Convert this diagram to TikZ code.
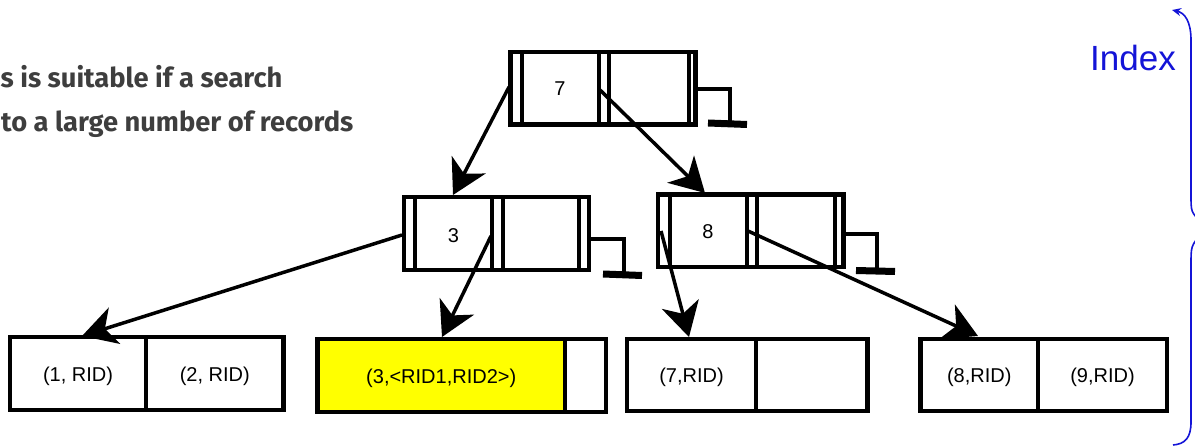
\documentclass[tikz,border=0pt]{standalone}
\usepackage{fontspec}
\setmainfont{Liberation Sans}
\newfontfamily\firafont{Fira Sans}
\usetikzlibrary{arrows.meta}
\definecolor{idxblue}{RGB}{20,20,215}
\definecolor{txtgray}{RGB}{62,62,62}
\definecolor{leafyellow}{RGB}{255,255,0}
\begin{document}
\begin{tikzpicture}[x=1pt,y=-1pt,
  cell/.style={draw=black, line width=4.5pt, inner sep=0pt, outer sep=0pt,
    minimum height=73pt, text height=20pt, text depth=4pt,
    font=\fontsize{20}{24}\selectfont},
  inode/.style={draw=black, line width=4.5pt, inner sep=0pt, outer sep=0pt,
    minimum width=185pt, minimum height=72.5pt},
  bar/.style={line width=4pt},
  ptr/.style={line width=4pt},
  gnd/.style={line width=7pt},
  lbl/.style={font=\fontsize{20}{24}\selectfont, inner sep=0pt},
  arr/.style={line width=3.5pt, -{Stealth[length=34pt,width=38pt,inset=10pt]}},
  side/.style={anchor=base west, text=txtgray, inner sep=0pt,
    font=\firafont\bfseries\fontsize{27.3}{30}\selectfont},
  brace/.style={idxblue, line width=1.6pt}
]
\useasboundingbox (0,0) rectangle (1195,446);
\clip (0,0) rectangle (1195,446);

% side text
\node[side] (s1) at (0.5,88) {s is suitable if a search};
\node[side] (s2) at (1,132) {to a large number of records};

% root index node
\node[inode] (r7) at (603,88.25) {};
\draw[bar] (521.5,52) -- (521.5,124.5) (599,52) -- (599,124.5)
           (609,52) -- (609,124.5) (689,52) -- (689,124.5);
\node[lbl] (l7) at (560,89) {7};
\draw[ptr] (r7.east |- 0,88.7) -- (729.5,88.7) -- (729.5,121);
\draw[gnd] (708,123) -- (747,124.5);

% node 3
\node[inode, minimum height=73pt] (n3) at (496.5,233.5) {};
\draw[bar] (415,197) -- (415,270) (492,197) -- (492,270)
           (503,197) -- (503,270) (579,197) -- (579,270);
\node[lbl] (l3) at (453.5,236) {3};
\draw[ptr] (n3.east |- 0,239) -- (624,239) -- (624,272);
\draw[gnd] (603,274) -- (642,275.5);

% node 8
\node[inode, minimum width=185.5pt] (n8) at (750.75,230.75) {};
\draw[bar] (669.5,194.5) -- (669.5,267) (747,194.5) -- (747,267)
           (757,194.5) -- (757,267) (834.5,194.5) -- (834.5,267);
\node[lbl] (l8) at (708,232) {8};
\draw[ptr] (n8.east |- 0,234) -- (877,234) -- (877,268);
\draw[gnd] (856,270.5) -- (895,271.5);

% leaves
\node[cell, minimum width=136pt] (a1) at (78,373.5) {(1, RID)};
\node[cell, minimum width=137.5pt] (a2) at (214.75,373.5) {(2, RID)};
\node[cell, fill=leafyellow, minimum width=247.5pt] (b1) at (441.25,375.5) {(3,<RID1,RID2>)};
\node[cell, minimum width=41pt] (b2) at (585.5,375.5) {};
\node[cell, minimum width=129pt, minimum height=72pt] (c1) at (691.5,375) {(7,RID)};
\node[cell, minimum width=111.5pt, minimum height=72pt] (c2) at (811.75,375) {};
\node[cell, minimum width=117.5pt, minimum height=72pt] (d1) at (979.25,375) {(8,RID)};
\node[cell, minimum width=129pt, minimum height=72pt] (d2) at (1102.5,375) {(9,RID)};

% connector end points
\coordinate (r7s1) at (509,87);
\coordinate (r7s2) at (600,90);
\coordinate (n3s1) at (402,235);
\coordinate (n3s2) at (491,236);
\coordinate (n8s1) at (661,231);
\coordinate (n8s2) at (748,231);
\coordinate (n3in) at (453,195);
\coordinate (n8in) at (705,193);
\coordinate (a1in) at (82,336);
\coordinate (b1in) at (442,337);
\coordinate (c1in) at (689,337);
\coordinate (d1in) at (978,336);

\draw[arr] (r7s1) -- (n3in);
\draw[arr] (r7s2) -- (n8in);
\draw[arr] (n3s1) -- (a1in);
\draw[arr] (n3s2) -- (b1in);
\draw[arr] (n8s1) -- (c1in);
\draw[arr] (n8s2) -- (d1in);

% index brace
\node[text=idxblue, inner sep=0pt, font=\fontsize{35}{40}\selectfont] (idx) at (1133,58) {Index};
\coordinate (bt) at (1172,10);
\coordinate (bb) at (1173,445);
\draw[brace, -{Stealth[length=9pt,width=8pt]}] (1201,222) .. controls (1191,212) .. (1191,195) -- (1191,40) .. controls (1191,22) and (1185,13) .. (bt);
\draw[brace] (1201,234) .. controls (1191,246) .. (1191,265) -- (1191,422) .. controls (1191,438) and (1185,444) .. (bb);
\end{tikzpicture}
\end{document}
